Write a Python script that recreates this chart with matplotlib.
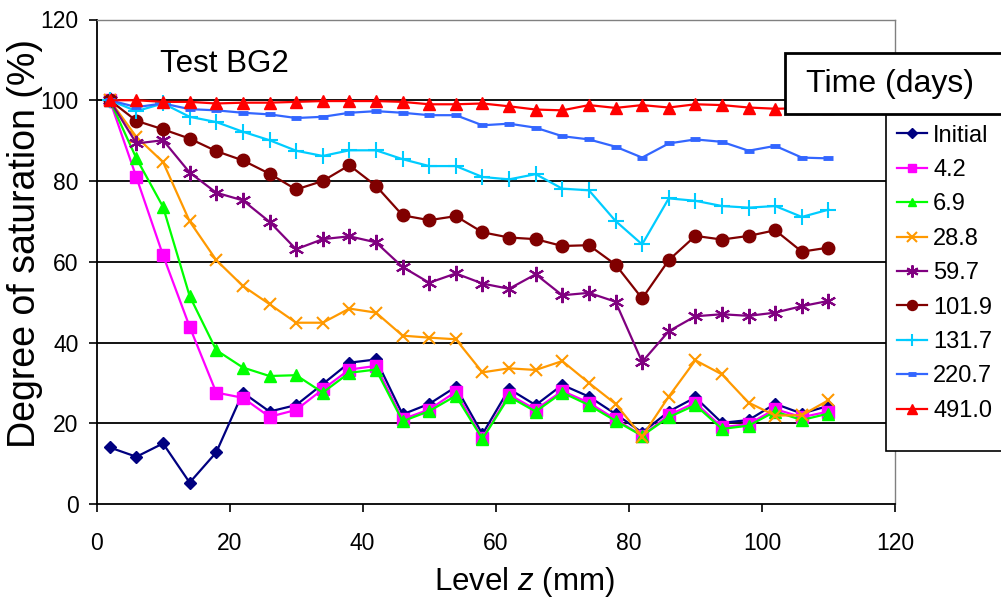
import matplotlib
matplotlib.use("Agg")
import matplotlib.pyplot as plt
from matplotlib.patches import Rectangle

plt.rcParams['font.family'] = ['Liberation Sans', 'DejaVu Sans']
plt.rcParams['mathtext.fontset'] = 'custom'
plt.rcParams['mathtext.rm'] = 'Liberation Sans'
plt.rcParams['mathtext.it'] = 'Liberation Sans:italic'

level_mm = [2, 6, 10, 14, 18, 22, 26, 30, 34, 38, 42, 46, 50, 54,
            58, 62, 66, 70, 74, 78, 82, 86, 90, 94, 98, 102, 106, 110]

sat_initial = [14.0, 11.7, 15.0, 5.3, 12.8, 27.6, 22.9, 24.5, 29.7, 35.0, 35.8, 22.2, 24.8, 29.0,
               17.3, 28.5, 24.5, 29.5, 26.6, 22.3, 17.7, 22.9, 26.4, 20.1, 20.8, 24.8, 22.4, 24.3]
sat_4_2 = [100.0, 80.9, 61.6, 43.9, 27.6, 26.3, 21.6, 23.3, 28.4, 33.3, 34.2, 21.0, 23.4, 27.8,
           16.3, 27.1, 23.4, 28.0, 25.1, 21.0, 16.9, 22.0, 25.1, 19.0, 19.8, 23.5, 21.5, 22.9]
sat_6_9 = [100.0, 85.6, 73.6, 51.5, 38.1, 33.8, 31.7, 31.9, 27.6, 32.5, 33.3, 20.5, 23.0, 26.8,
           16.1, 26.6, 22.9, 27.6, 24.5, 20.6, 16.9, 21.5, 24.5, 18.6, 19.4, 22.9, 20.8, 22.4]
sat_28_8 = [100.0, 90.9, 84.7, 70.0, 60.4, 54.0, 49.5, 44.9, 44.9, 48.4, 47.4, 41.7, 41.2, 40.8,
            32.6, 33.6, 33.2, 35.4, 30.0, 24.8, 16.7, 26.6, 35.6, 32.1, 25.1, 21.9, 22.0, 25.7]
sat_59_7 = [100.0, 89.3, 90.1, 82.1, 77.1, 75.2, 69.9, 63.1, 65.6, 66.3, 64.8, 58.7, 54.8, 57.1,
            54.6, 53.3, 56.9, 51.7, 52.3, 50.1, 35.2, 42.8, 46.5, 47.0, 46.6, 47.4, 49.0, 50.3]
sat_101_9 = [100.0, 94.9, 92.8, 90.5, 87.4, 85.1, 81.8, 77.9, 80.0, 83.9, 78.8, 71.5, 70.3, 71.3,
             67.3, 66.0, 65.6, 63.9, 64.1, 59.3, 50.9, 60.4, 66.4, 65.5, 66.4, 67.8, 62.5, 63.5]
sat_131_7 = [100.0, 97.3, 99.2, 95.9, 94.6, 92.2, 90.1, 87.5, 86.2, 87.6, 87.6, 85.4, 83.7, 83.7,
             81.0, 80.4, 81.7, 78.1, 77.7, 70.1, 64.3, 75.7, 75.1, 73.8, 73.4, 73.8, 71.1, 72.9]
sat_220_7 = [100.0, 98.3, 99.2, 97.8, 97.5, 96.9, 96.5, 95.6, 95.9, 96.9, 97.3, 96.9, 96.3, 96.3,
             93.8, 94.2, 93.2, 91.1, 90.3, 88.5, 85.8, 89.3, 90.3, 89.7, 87.5, 88.7, 85.8, 85.6]
sat_491_0 = [100.0, 100.0, 99.6, 99.6, 99.2, 99.4, 99.4, 99.6, 99.8, 99.8, 99.8, 99.6, 99.0, 99.0,
             99.2, 98.5, 97.7, 97.5, 98.8, 98.1, 98.8, 98.2, 99.0, 98.8, 98.2, 97.9, 98.0, 98.2]

series_labels = ['Initial', '4.2', '6.9', '28.8', '59.7', '101.9', '131.7', '220.7', '491.0']
series_values = [sat_initial, sat_4_2, sat_6_9, sat_28_8, sat_59_7,
                 sat_101_9, sat_131_7, sat_220_7, sat_491_0]

styles = [
    dict(color='#000080', marker='D', markersize=6),
    dict(color='#FF00FF', marker='s', markersize=8),
    dict(color='#00FF00', marker='^', markersize=8),
    dict(color='#FF9900', marker='x', markersize=9, markeredgewidth=1.5),
    dict(color='#800080', marker=(6, 2, 0), markersize=11, markeredgewidth=1.5),
    dict(color='#800000', marker='o', markersize=9),
    dict(color='#00CCFF', marker='+', markersize=11, markeredgewidth=1.5),
    dict(color='#3366FF', marker='_', markersize=7, markeredgewidth=3.5),
    dict(color='#FF0000', marker='^', markersize=9),
]

W, H = 1001, 603
fig = plt.figure(figsize=(W / 100, H / 100), dpi=100)
ax = fig.add_axes([96.5 / W, 1 - 504 / H, (895 - 96.5) / W, (504 - 19.5) / H])

handles = []
for lab, vals, st in zip(series_labels, series_values, styles):
    h, = ax.plot(level_mm, vals, linewidth=1.6, label=lab, clip_on=False, zorder=3, **st)
    handles.append(h)

ax.set_xlim(0, 120)
ax.set_ylim(0, 120)
ax.set_xticks(range(0, 121, 20))
ax.set_yticks(range(0, 121, 20))
ax.tick_params(axis='both', direction='out', length=6, width=1.2, labelsize=16.5, colors='black')
ax.tick_params(axis='x', pad=14)
ax.tick_params(axis='y', pad=7)
for y in [20, 40, 60, 80, 100]:
    ax.axhline(y, color='black', linewidth=1.3, zorder=1)
for s in ['left', 'bottom']:
    ax.spines[s].set_color('black')
    ax.spines[s].set_linewidth(1.3)
for s in ['top', 'right']:
    ax.spines[s].set_color('#808080')
    ax.spines[s].set_linewidth(1.0)

ax.text(9.5, 109, 'Test BG2', fontsize=22.5, ha='left', va='center')

fig.text(524 / W, 1 - 582 / H, 'Level $z$ (mm)', fontsize=22.5, ha='center', va='center')
fig.text(25 / W, 1 - 244 / H, 'Degree of saturation (%)', fontsize=27, rotation=90,
         ha='center', va='center')

# legend box
fig.patches.append(Rectangle((886 / W, 1 - 451 / H), 0.2, (451 - 114) / H,
                             transform=fig.transFigure, facecolor='white',
                             edgecolor='black', linewidth=1.2, zorder=5))
leg = fig.legend(handles=handles, loc='upper left', bbox_to_anchor=(886 / W, 1 - 114 / H),
                 frameon=False, fontsize=17, handlelength=1.3, handletextpad=0.25,
                 borderpad=0.45, borderaxespad=0, labelspacing=0.525, markerscale=0.8)
leg.set_zorder(6)
# title box
fig.patches.append(Rectangle((785 / W, 1 - 114 / H), 0.3, (114 - 53) / H,
                             transform=fig.transFigure, facecolor='white',
                             edgecolor='black', linewidth=2.0, zorder=7))
fig.text(806 / W, 1 - 84 / H, 'Time (days)', fontsize=23, ha='left', va='center', zorder=8)

fig.savefig('out.png', dpi=100)
